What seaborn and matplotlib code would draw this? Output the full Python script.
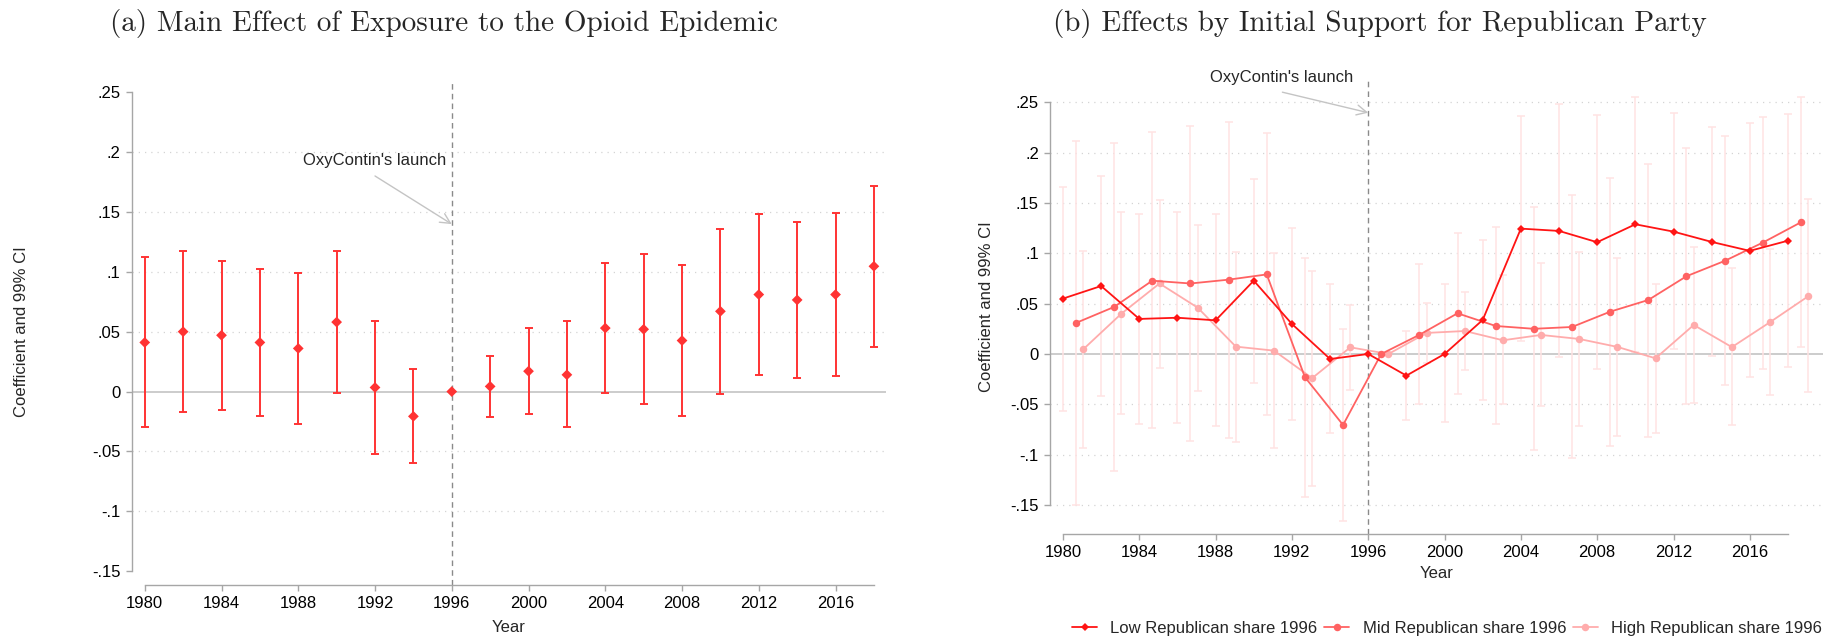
import numpy as np
import matplotlib
matplotlib.use('Agg')
import matplotlib.pyplot as plt
from matplotlib.lines import Line2D
import seaborn as sns

# ---- data ----
years = np.arange(1980, 2019, 2)

# panel (a): main effect, coefficient and 99% CI
main_coef = [0.041, 0.050, 0.047, 0.041, 0.036, 0.058, 0.0034, -0.0207, 0.0, 0.0043,
             0.017, 0.014, 0.053, 0.052, 0.0426, 0.067, 0.081, 0.0765, 0.081, 0.1046]
main_hi = [0.112, 0.117, 0.109, 0.1025, 0.099, 0.117, 0.0586, 0.0188, np.nan, 0.030,
           0.053, 0.0586, 0.107, 0.1145, 0.106, 0.136, 0.1485, 0.1417, 0.149, 0.172]
main_lo = [-0.0296, -0.0167, -0.015, -0.020, -0.027, -0.001, -0.052, -0.0596, np.nan, -0.0216,
           -0.019, -0.030, -0.001, -0.010, -0.020, -0.002, 0.0139, 0.0117, 0.013, 0.037]

# panel (b): effects by initial Republican share
low_coef = [0.055, 0.0675, 0.0348, 0.036, 0.0334, 0.0728, 0.0298, -0.005, 0.0, -0.0215,
            0.0, 0.0338, 0.1245, 0.1222, 0.111, 0.1288, 0.1215, 0.1113, 0.1024, 0.1125]
low_hi = [0.166, 0.177, 0.139, 0.141, 0.139, 0.174, 0.125, 0.069, np.nan, 0.0228,
          0.069, 0.113, 0.236, 0.248, 0.237, 0.2556, 0.239, 0.225, 0.229, 0.2385]
low_lo = [-0.0566, -0.0417, -0.070, -0.0685, -0.0715, -0.029, -0.0656, -0.0785, np.nan, -0.066,
          -0.068, -0.0457, 0.0132, -0.0033, -0.0146, 0.0023, 0.0046, -0.002, -0.023, -0.0126]

mid_coef = [0.0308, 0.0467, 0.0728, 0.070, 0.0738, 0.079, -0.023, -0.0705, 0.0, 0.019,
            0.0404, 0.0278, 0.025, 0.0268, 0.042, 0.0536, 0.0772, 0.0924, 0.1106, 0.1308]
mid_hi = [0.212, 0.210, 0.220, 0.226, 0.230, 0.2195, 0.095, 0.0245, np.nan, 0.0894,
          0.1205, 0.1265, 0.1457, 0.1576, 0.175, 0.189, 0.205, 0.216, 0.2358, 0.255]
mid_lo = [-0.150, -0.116, -0.074, -0.086, -0.083, -0.061, -0.142, -0.1656, np.nan, -0.050,
          -0.040, -0.070, -0.095, -0.1036, -0.091, -0.082, -0.050, -0.031, -0.0146, 0.0073]

high_coef = [0.0046, 0.040, 0.070, 0.046, 0.0073, 0.0033, -0.024, 0.0066, 0.0, 0.0209,
             0.0228, 0.0136, 0.0189, 0.0149, 0.007, -0.0043, 0.0288, 0.0068, 0.0316, 0.0573]
high_hi = [0.102, 0.141, 0.153, 0.128, 0.101, 0.1007, 0.082, 0.049, np.nan, 0.051,
           0.062, 0.0785, 0.090, 0.1017, 0.0957, 0.0695, 0.1066, 0.085, 0.1046, 0.1536]
high_lo = [-0.093, -0.060, -0.014, -0.037, -0.087, -0.0934, -0.131, -0.0354, np.nan, -0.009,
           -0.016, -0.050, -0.0517, -0.072, -0.081, -0.078, -0.049, -0.071, -0.041, -0.0374]

group_labels = ['Low Republican share 1996', 'Mid Republican share 1996', 'High Republican share 1996']
ytick_vals = [-0.15, -0.1, -0.05, 0, 0.05, 0.1, 0.15, 0.2, 0.25]
ytick_text = ['-.15', '-.1', '-.05', '0', '.05', '.1', '.15', '.2', '.25']
xtick_vals = list(range(1980, 2017, 4))

sns.set_theme(style='white')
plt.rcParams['font.family'] = ['Liberation Sans', 'DejaVu Sans']

W, H = 1845, 640
fig = plt.figure(figsize=(W / 100, H / 100), dpi=100)
ax1 = fig.add_axes([131.7 / W, 55.5 / H, 754.3 / W, 502.3 / H])
ax2 = fig.add_axes([1050 / W, 106 / H, 772.7 / W, 454 / H])

AXCOL = '#a6a6a6'


def style_axis(ax, xlim, ylim, grid_vals):
    ax.set_xlim(xlim)
    ax.set_ylim(ylim)
    for s in ['top', 'right']:
        ax.spines[s].set_visible(False)
    ax.spines['left'].set_bounds(-0.15, 0.25)
    ax.spines['bottom'].set_bounds(1980, 2018)
    for s in ['left', 'bottom']:
        ax.spines[s].set_color(AXCOL)
        ax.spines[s].set_linewidth(1.0)
    ax.set_yticks(ytick_vals)
    ax.set_yticklabels(ytick_text)
    ax.set_xticks(xtick_vals)
    ax.tick_params(axis='both', direction='out', length=4.5, width=1.0, color=AXCOL,
                   labelcolor='black', labelsize=12, pad=3.5, left=True, bottom=True)
    for v in grid_vals:
        ax.axhline(v, color='#d4d4d4', ls=(0, (1, 4)), lw=0.9, zorder=0)
    ax.axhline(0, color='#c4c4c4', lw=1.2, zorder=1)
    ax.axvline(1996, color='#8a8a8a', ls=(0, (4, 3)), lw=1.0, zorder=1)
    ax.grid(False)


# ---- panel (a) ----
style_axis(ax1, (1979.32, 2018.63), (-0.1611, 0.2583), [-0.1, -0.05, 0.05, 0.1, 0.15, 0.2])
red_a = '#ff3333'
c = np.array(main_coef)
ax1.errorbar(years, c, yerr=[c - np.array(main_lo), np.array(main_hi) - c], fmt='none',
             ecolor=red_a, elinewidth=1.4, capsize=2.8, capthick=1.4, zorder=2)
sns.scatterplot(x=years, y=c, marker='D', s=30, color=red_a, edgecolor='none', ax=ax1, zorder=3)
ax1.set_xlabel('Year', fontsize=12, labelpad=7)
ax1.text(1992.0, 0.1926, "OxyContin's launch", fontsize=12, ha='center', va='center')
ax1.annotate('', xy=(1996, 0.1398), xytext=(1992.0, 0.180),
             arrowprops=dict(arrowstyle='->,head_length=0.6,head_width=0.3', color='#c4c4c4',
                             lw=1.0, shrinkA=0, shrinkB=0))

# ---- panel (b) ----
style_axis(ax2, (1979.32, 2019.82), (-0.1788, 0.2721),
           [-0.15, -0.1, -0.05, 0.05, 0.1, 0.15, 0.2, 0.25])
series = [
    (low_coef, low_lo, low_hi, 0.0, '#ff1414', 'D', 4.4),
    (mid_coef, mid_lo, mid_hi, 0.68, '#ff6262', 'o', 5.4),
    (high_coef, high_lo, high_hi, 1.06, '#ffacac', 'o', 5.4),
]
ci_col = '#ffe3e3'
for coef, lo, hi, shift, col, mk, ms in series:
    c = np.array(coef)
    ax2.errorbar(years + shift, c, yerr=[c - np.array(lo), np.array(hi) - c], fmt='none',
                 ecolor=ci_col, elinewidth=1.1, capsize=3.1, capthick=1.1, zorder=1.5)

handles = []
for (coef, lo, hi, shift, col, mk, ms), lab, z in zip(series, group_labels, [5, 4, 3]):
    sns.lineplot(x=years + shift, y=coef, color=col, marker=mk, markersize=ms,
                 markeredgewidth=0, lw=1.3, ax=ax2, zorder=z, errorbar=None, sort=False)
    handles.append(Line2D([], [], color=col, marker=mk, markersize=ms, markeredgewidth=0, lw=1.3))
if ax2.get_legend() is not None:
    ax2.get_legend().remove()
ax2.set_ylabel('')
ax2.set_xlabel('Year', fontsize=12, labelpad=4)
ax2.text(1991.47, 0.2748, "OxyContin's launch", fontsize=12, ha='center', va='center', clip_on=False)
ax2.annotate('', xy=(1996, 0.2396), xytext=(1991.5, 0.260),
             arrowprops=dict(arrowstyle='->,head_length=0.6,head_width=0.3', color='#c4c4c4',
                             lw=1.0, shrinkA=0, shrinkB=0), annotation_clip=False)

fig.legend(handles, group_labels, loc='center', bbox_to_anchor=(1447 / W, 12 / H), ncol=3,
           frameon=False, fontsize=12, handlelength=1.5, handletextpad=0.8, columnspacing=0.4)

# axis titles and panel titles
fig.text(21.7 / W, 1 - 332 / H, 'Coefficient and 99% CI', rotation=90, fontsize=12,
         ha='center', va='center')
fig.text(986 / W, 1 - 307 / H, 'Coefficient and 99% CI', rotation=90, fontsize=12,
         ha='center', va='center')
fig.text(443.5 / W, 1 - 24 / H, '(a) Main Effect of Exposure to the Opioid Epidemic',
         family='cmr10', fontsize=21, ha='center', va='center')
fig.text(1380 / W, 1 - 24 / H, '(b) Effects by Initial Support for Republican Party',
         family='cmr10', fontsize=21, ha='center', va='center')

fig.savefig('out.png', dpi=100, facecolor='white')
